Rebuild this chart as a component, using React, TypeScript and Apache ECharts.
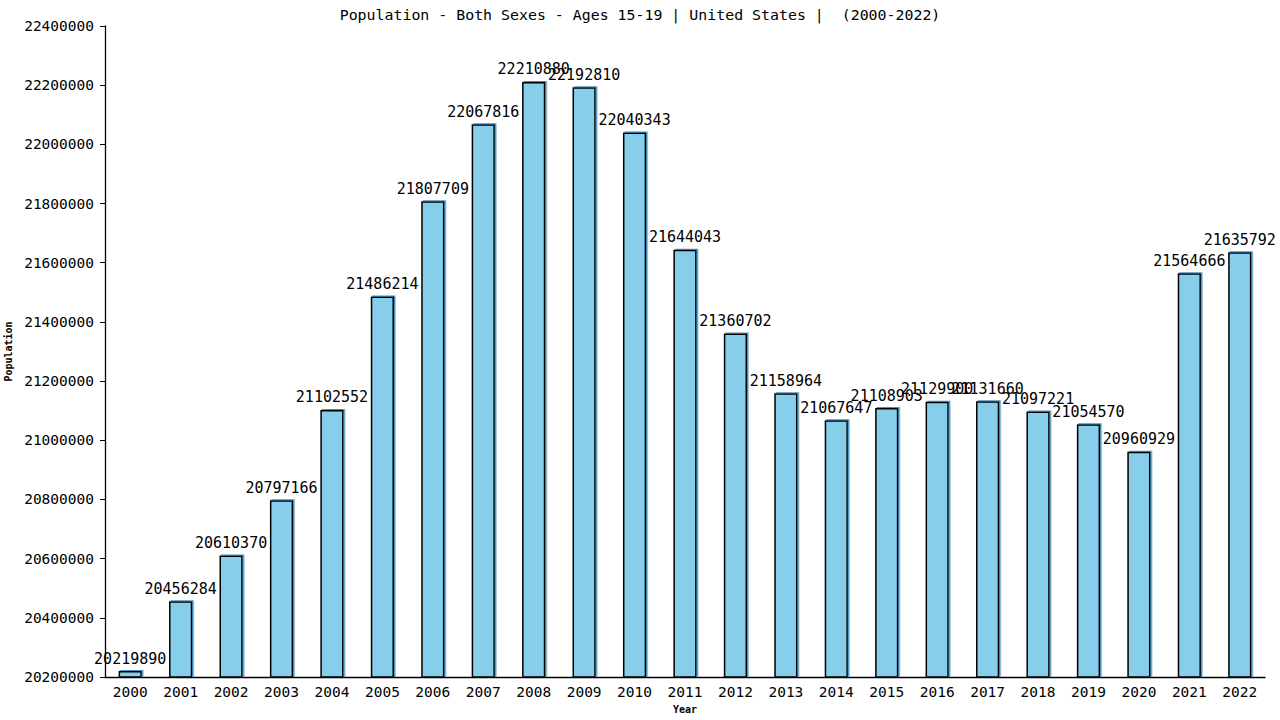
import { useRef, useEffect } from "react";
import * as echarts from "echarts";

const years = [
  "2000", "2001", "2002", "2003", "2004", "2005", "2006", "2007", "2008", "2009", "2010", "2011",
  "2012", "2013", "2014", "2015", "2016", "2017", "2018", "2019", "2020", "2021", "2022",
];

const population = [
  20219890, 20456284, 20610370, 20797166, 21102552, 21486214, 21807709, 22067816, 22210880,
  22192810, 22040343, 21644043, 21360702, 21158964, 21067647, 21108903, 21129900, 21131660,
  21097221, 21054570, 20960929, 21564666, 21635792,
];

const FONT = "DejaVu Sans Mono";

export default function App() {
  const containerRef = useRef<HTMLDivElement>(null);

  useEffect(() => {
    if (!containerRef.current) return;
    const chart = echarts.init(containerRef.current, undefined, { renderer: "svg" });

    const option: echarts.EChartsOption = {
      animation: false,
      backgroundColor: "#ffffff",
      title: {
        text: "Population - Both Sexes - Ages 15-19 | United States |  (2000-2022)",
        left: "center",
        top: 2,
        textStyle: { fontFamily: FONT, fontSize: 14.9, fontWeight: "normal", color: "#000" },
      },
      grid: { left: 105, right: 15, top: 26, bottom: 43, outerBoundsMode: "none" } as any,
      xAxis: {
        type: "category",
        data: years,
        name: "Year",
        nameLocation: "middle",
        nameGap: 27,
        nameTextStyle: { fontFamily: FONT, fontSize: 10, fontWeight: "bold", color: "#000" },
        axisLine: { lineStyle: { color: "#000", width: 1.3 } },
        axisTick: { show: false },
        axisLabel: { fontFamily: FONT, fontSize: 14.5, color: "#000", margin: 7 },
      },
      yAxis: {
        type: "value",
        min: 20200000,
        max: 22400000,
        interval: 200000,
        name: "Population",
        nameLocation: "middle",
        nameGap: 88,
        nameTextStyle: { fontFamily: FONT, fontSize: 10, fontWeight: "bold", color: "#000" },
        axisLine: { show: true, lineStyle: { color: "#000", width: 1.3 } },
        axisTick: { show: true, length: 5, lineStyle: { color: "#000" } },
        axisLabel: {
          fontFamily: FONT,
          fontSize: 14.5,
          color: "#000",
          margin: 11,
          formatter: (v: number) => String(v),
        },
        splitLine: { show: false },
      },
      series: [
        {
          type: "bar",
          data: population,
          barWidth: "46%",
          itemStyle: {
            color: "#87ceeb",
            borderColor: "#000",
            borderWidth: 1.5,
            shadowColor: "#4a90c0",
            shadowOffsetX: 1.5,
            shadowOffsetY: -1,
            shadowBlur: 0,
          },
          label: {
            show: true,
            position: "top",
            distance: 5,
            fontFamily: FONT,
            fontSize: 15,
            color: "#000",
          },
        },
      ],
    };

    chart.setOption(option);
    return () => chart.dispose();
  }, []);

  return <div ref={containerRef} style={{ position: "fixed", left: 0, top: 0, width: 1280, height: 720 }} />;
}
